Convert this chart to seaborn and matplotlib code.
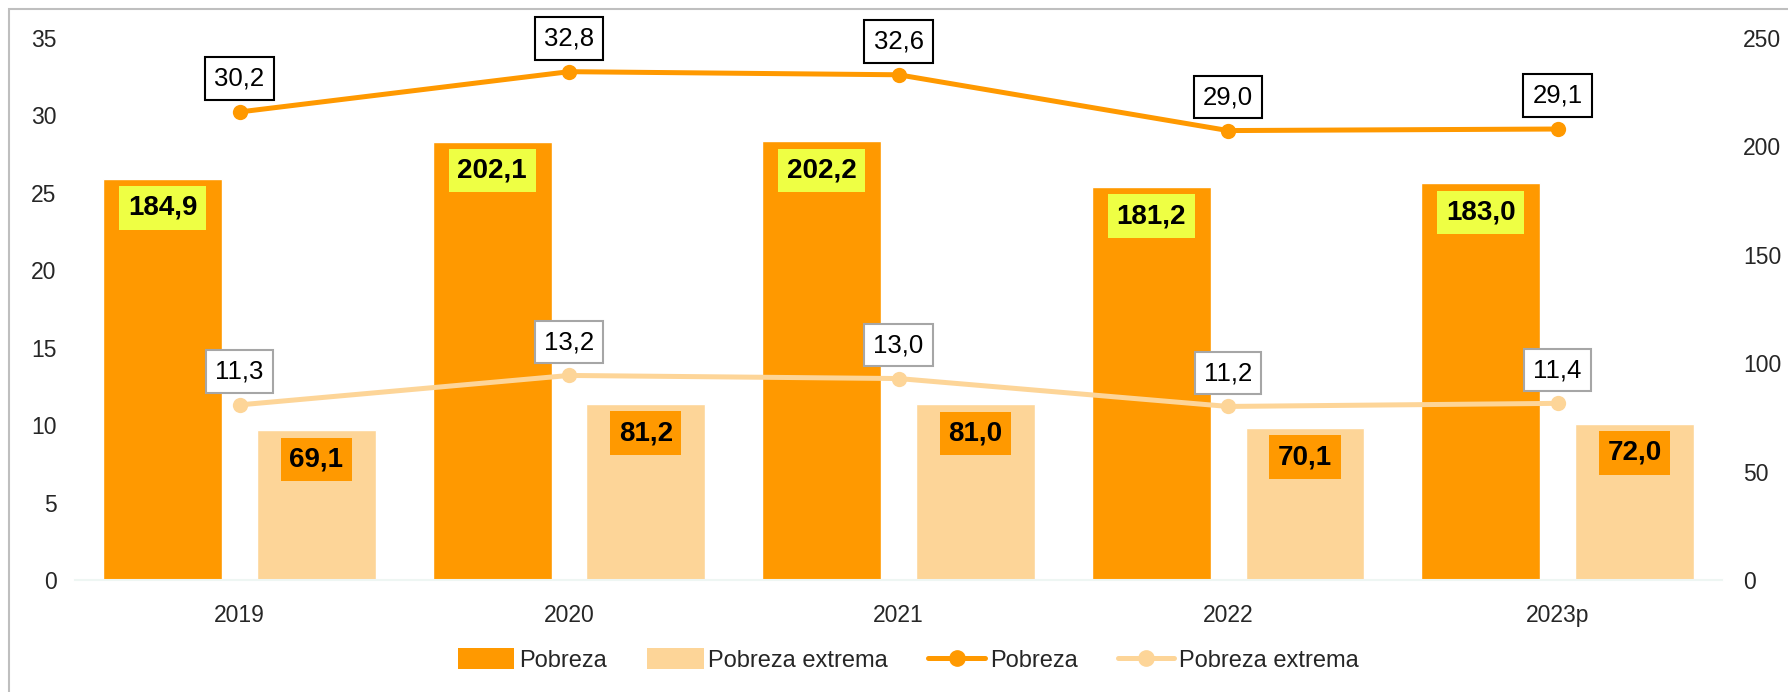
import numpy as np
import pandas as pd
import matplotlib
matplotlib.use("Agg")
import matplotlib.pyplot as plt
import seaborn as sns
from matplotlib.patches import Patch, Rectangle
from matplotlib.lines import Line2D

# ---- data ----
years = ["2019", "2020", "2021", "2022", "2023p"]
pobreza_mill = [184.9, 202.1, 202.2, 181.2, 183.0]
extrema_mill = [69.1, 81.2, 81.0, 70.1, 72.0]
pobreza_pct = [30.2, 32.8, 32.6, 29.0, 29.1]
extrema_pct = [11.3, 13.2, 13.0, 11.2, 11.4]
series_names = ["Pobreza", "Pobreza extrema"]

DARK = "#FF9900"
LIGHT = "#FDD598"
YELLOW = "#EEFF44"

sns.set_theme(style="white")
plt.rcParams["font.family"] = ["Liberation Sans", "DejaVu Sans"]

fig = plt.figure(figsize=(17.88, 6.92), dpi=100)
ax = fig.add_axes([0.0418, 0.1618, 0.9215, 0.7839])

df = pd.DataFrame({
    "year": years * 2,
    "value": pobreza_mill + extrema_mill,
    "serie": [series_names[0]] * len(years) + [series_names[1]] * len(years),
})

sns.barplot(data=df, x="year", y="value", hue="serie", order=years,
            hue_order=series_names, palette=[DARK, LIGHT], width=0.932,
            gap=0.227, saturation=1, legend=False, ax=ax, errorbar=None)

ax.set_ylim(0, 250)
ax.set_xlim(-0.5, len(years) - 0.5)
ax.set_yticks(np.arange(0, 251, 50))
ax.set_xlabel("")
ax.set_ylabel("")
for s in ["top", "left", "right"]:
    ax.spines[s].set_visible(False)
ax.spines["bottom"].set_color("#EEF6F3")
ax.spines["bottom"].set_linewidth(1.5)

# bar labels
for cont, bg in zip(ax.containers, [YELLOW, DARK]):
    for rect in cont:
        h = rect.get_height()
        xc = rect.get_x() + rect.get_width() / 2
        ax.annotate(f"{h:.1f}".replace(".", ","), xy=(xc, h), xytext=(0, -21),
                    textcoords="offset points", ha="center", va="center",
                    fontsize=20, fontweight="bold", color="black",
                    bbox=dict(boxstyle="square,pad=0.31", fc=bg, ec="none"))

# lines on twin axis
ax2 = ax.twinx()
xpos = np.arange(len(years))
sns.lineplot(x=xpos, y=pobreza_pct, color=DARK, lw=3.6, marker="o",
             markersize=11, markeredgewidth=0, ax=ax2)
sns.lineplot(x=xpos, y=extrema_pct, color=LIGHT, lw=3.6, marker="o",
             markersize=11, markeredgewidth=0, ax=ax2)
ax2.set_ylim(0, 35)
ax2.set_yticks(np.arange(0, 36, 5))
for s in ["top", "left", "right", "bottom"]:
    ax2.spines[s].set_visible(False)
ax2.set_ylabel("")

# tick sides: bars (millions) on right, percentages on left
ax.yaxis.tick_right()
ax.yaxis.set_label_position("right")
ax2.yaxis.tick_left()
ax2.yaxis.set_label_position("left")
ax.tick_params(axis="y", length=0, pad=15, labelsize=16.5, labelright=True, labelleft=False)
ax.tick_params(axis="x", length=0, pad=17, labelsize=16.5)
ax2.tick_params(axis="y", length=0, pad=13, labelsize=16.5, labelleft=True, labelright=False)

for vals, ec in [(pobreza_pct, "black"), (extrema_pct, "#A6A6A6")]:
    for xi, v in zip(xpos, vals):
        ax2.annotate(f"{v:.1f}".replace(".", ","), xy=(xi, v), xytext=(0, 24),
                     textcoords="offset points", ha="center", va="center",
                     fontsize=18.5, color="black",
                     bbox=dict(boxstyle="square,pad=0.36", fc="white", ec=ec, lw=1.5))

ax.set_xticks(xpos)
ax.set_xticklabels(years)

handles = [
    Patch(facecolor=DARK, edgecolor="none", label="Pobreza"),
    Patch(facecolor=LIGHT, edgecolor="none", label="Pobreza extrema"),
    Line2D([0], [0], color=DARK, lw=3.6, marker="o", markersize=11, label="Pobreza"),
    Line2D([0], [0], color=LIGHT, lw=3.6, marker="o", markersize=11, label="Pobreza extrema"),
]
fig.legend(handles=handles, loc="center", bbox_to_anchor=(0.508, 0.046), ncol=4,
           frameon=False, fontsize=17, handlelength=2.4, handleheight=1.0,
           handletextpad=0.2, columnspacing=1.7)

fig.patches.append(Rectangle((9 / 1788, -0.1), 1.2, 1.1 - 9 / 692, transform=fig.transFigure,
                             fill=False, edgecolor="#BFBFBF", lw=1.5))

fig.savefig("out.png", dpi=100)
